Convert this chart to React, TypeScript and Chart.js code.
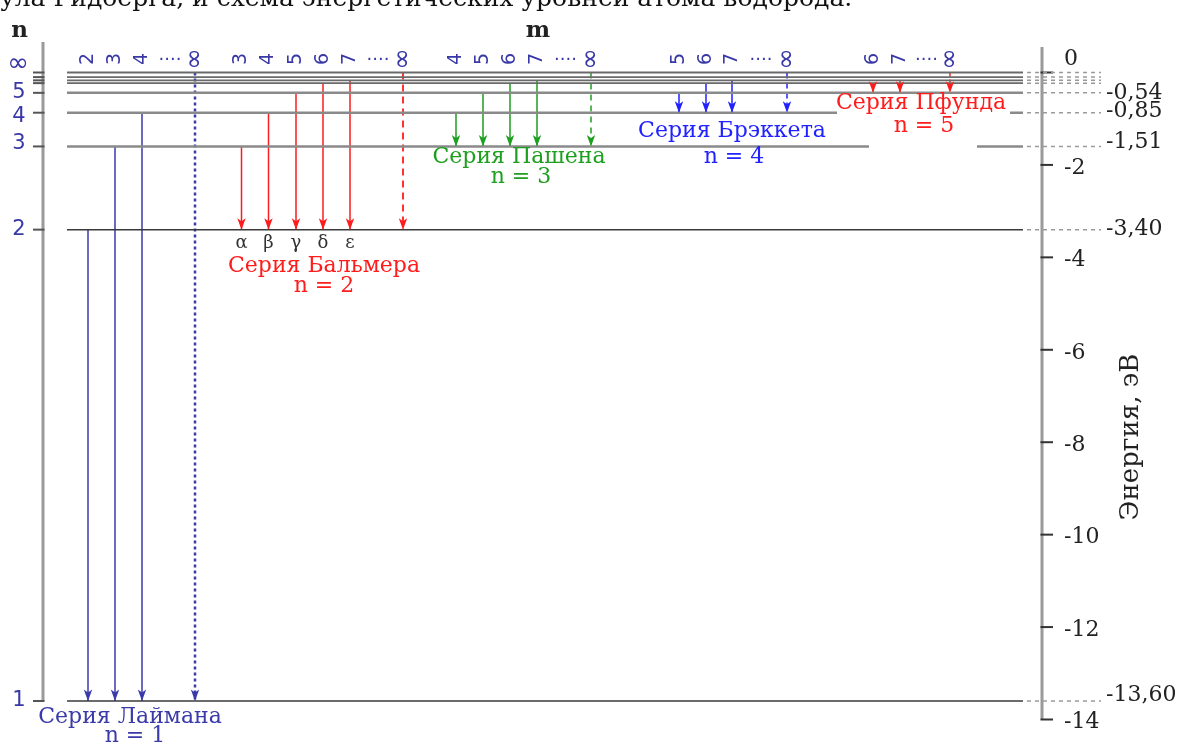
import React, { useEffect, useRef } from 'react';
import { Chart, registerables } from 'chart.js';
Chart.register(...registerables);

// ---------- data ----------
const headerText = 'ула Ридберга, и схема энергетических уровней атома водорода.';
const levelNames = ['1', '2', '3', '4', '5', '6', '7', '8', '∞'];
// energies of the level lines as drawn in the diagram (eV)
const levelEnergies = [-13.6, -3.4, -1.6, -0.87, -0.44, -0.23, -0.17, -0.1, 0];
const levelValueLabels = ['-13,60', '-3,40', '-1,51', '-0,85', '-0,54'];
const energyTicks = [0, -2, -4, -6, -8, -10, -12, -14];
const energyTickLabels = ['0', '-2', '-4', '-6', '-8', '-10', '-12', '-14'];
const axisTitle = 'Энергия, эВ';

const seriesNames = ['Серия Лаймана', 'Серия Бальмера', 'Серия Пашена', 'Серия Брэккета', 'Серия Пфунда'];
const seriesLower = ['1', '2', '3', '4', '5'];
const lymanUpper = ['2', '3', '4', '∞'];
const lymanX = [88, 115, 142, 195];
const balmerUpper = ['3', '4', '5', '6', '7', '∞'];
const balmerX = [241.5, 268.5, 296, 323, 350, 403];
const paschenUpper = ['4', '5', '6', '7', '∞'];
const paschenX = [456, 483, 510, 537, 591];
const brackettUpper = ['5', '6', '7', '∞'];
const brackettX = [679, 706, 732, 787];
const pfundUpper = ['6', '7', '∞'];
const pfundX = [873, 900, 950];
const balmerGreek = ['α', 'β', 'γ', 'δ', 'ε'];

// ---------- styles ----------
const SERIF = '"DejaVu Serif", serif';
const SANS = '"DejaVu Sans", sans-serif';
const NAVY = '#3838a6';
const PX_PER_EV = 46.214;
const Y_MAX = 72.5 / PX_PER_EV;
const Y_MIN = -(750 - 72.5) / PX_PER_EV;

const energyOf = (name: string) => levelEnergies[levelNames.indexOf(name)];

const seriesDefs = [
  { upper: lymanUpper, x: lymanX, color: '#3a3aaa', dash: [3, 3], infWidth: 2.5, label: [130, 717, 135, 736] },
  { upper: balmerUpper, x: balmerX, color: '#ff1c1c', dash: [7, 5], infWidth: 1.8, label: [324, 266, 324, 286] },
  { upper: paschenUpper, x: paschenX, color: '#1f9f1f', dash: [6, 5], infWidth: 1.5, label: [519, 157, 521, 177] },
  { upper: brackettUpper, x: brackettX, color: '#2222ff', dash: [6, 4], infWidth: 1.5, label: [732, 131, 734, 157] },
  { upper: pfundUpper, x: pfundX, color: '#ff1c1c', dash: [4, 3], infWidth: 1.5, label: [921, 103, 924, 126] },
];

function txt(ctx: CanvasRenderingContext2D, s: string, x: number, y: number, font: string, color: string,
  align: CanvasTextAlign = 'center', baseline: CanvasTextBaseline = 'middle', rot = 0) {
  ctx.save();
  ctx.font = font;
  ctx.fillStyle = color;
  ctx.textAlign = align;
  ctx.textBaseline = baseline;
  ctx.translate(x, y);
  if (rot) ctx.rotate(rot);
  ctx.fillText(s, 0, 0);
  ctx.restore();
}

const diagramPlugin = {
  id: 'diagram',
  beforeDatasetsDraw(chart: any) {
    const ctx: CanvasRenderingContext2D = chart.ctx;
    const xs = chart.scales.x;
    const ys = chart.scales.y;
    ctx.save();
    // left n axis
    const lx = xs.getPixelForValue(43);
    const y1 = ys.getPixelForValue(energyOf('1'));
    ctx.strokeStyle = '#9a9a9a';
    ctx.lineWidth = 3;
    ctx.beginPath();
    ctx.moveTo(lx, 42);
    ctx.lineTo(lx, y1);
    ctx.stroke();
    ctx.strokeStyle = '#555';
    ctx.lineWidth = 2;
    levelEnergies.forEach((E) => {
      const y = ys.getPixelForValue(E);
      ctx.beginPath();
      ctx.moveTo(xs.getPixelForValue(33), y);
      ctx.lineTo(lx + 1.5, y);
      ctx.stroke();
    });
    // right energy axis
    const rx = xs.getPixelForValue(1042);
    const yb = ys.getPixelForValue(-14);
    ctx.strokeStyle = '#9a9a9a';
    ctx.lineWidth = 3;
    ctx.beginPath();
    ctx.moveTo(rx, 47);
    ctx.lineTo(rx, yb);
    ctx.stroke();
    ctx.strokeStyle = '#333';
    ctx.lineWidth = 2;
    energyTicks.forEach((v) => {
      const y = ys.getPixelForValue(v);
      ctx.beginPath();
      ctx.moveTo(rx - 1.5, y);
      ctx.lineTo(xs.getPixelForValue(1053), y);
      ctx.stroke();
    });
    ctx.restore();
  },
  afterDatasetsDraw(chart: any) {
    const ctx: CanvasRenderingContext2D = chart.ctx;
    chart.data.datasets.forEach((ds: any, i: number) => {
      if (!ds.arrow) return;
      const meta = chart.getDatasetMeta(i);
      const p = meta.data[meta.data.length - 1];
      const x = p.x, y = p.y;
      ctx.save();
      ctx.fillStyle = ds.borderColor;
      ctx.beginPath();
      ctx.moveTo(x, y);
      ctx.lineTo(x - 4.2, y - 11.5);
      ctx.lineTo(x, y - 8.5);
      ctx.lineTo(x + 4.2, y - 11.5);
      ctx.closePath();
      ctx.fill();
      ctx.restore();
    });
  },
  afterDraw(chart: any) {
    const ctx: CanvasRenderingContext2D = chart.ctx;
    const xs = chart.scales.x;
    const ys = chart.scales.y;
    // header (cut off at the top)
    txt(ctx, headerText, 0, 6, `25px ${SERIF}`, '#111', 'left', 'alphabetic');
    // axis letters
    txt(ctx, 'n', 19.5, 37, `bold 23px ${SERIF}`, '#222', 'center', 'alphabetic');
    txt(ctx, 'm', 538, 37, `bold 23px ${SERIF}`, '#222', 'center', 'alphabetic');
    // n labels on left axis
    levelNames.forEach((n, i) => {
      const y = ys.getPixelForValue(levelEnergies[i]);
      if (n === '∞') txt(ctx, n, 18, y - 8, `26px ${SANS}`, NAVY);
      else if (['1', '2', '3', '4', '5'].includes(n)) {
        const dy = n === '3' ? -3 : n === '4' ? 4 : 0;
        txt(ctx, n, 19, y + dy, `21px ${SANS}`, NAVY);
      }
    });
    // upper level numbers above arrows (rotated)
    seriesDefs.forEach((s) => {
      s.upper.forEach((u, j) => {
        txt(ctx, u, xs.getPixelForValue(s.x[j]), 59, u === '∞' ? `26px ${SANS}` : `19px ${SANS}`, NAVY, 'center', 'middle', -Math.PI / 2);
      });
      const n = s.upper.length;
      const mid = (s.x[n - 2] + s.x[n - 1]) / 2 + 1.5;
      txt(ctx, '····', xs.getPixelForValue(mid), 60, `18px ${SANS}`, NAVY);
    });
    // greek letters
    balmerGreek.forEach((g, j) => {
      txt(ctx, g, xs.getPixelForValue(balmerX[j]), 243, `18px ${SERIF}`, '#333');
    });
    // series names
    seriesDefs.forEach((s, i) => {
      const [x1, y1, x2, y2] = s.label;
      txt(ctx, seriesNames[i], x1, y1, `22px ${SERIF}`, s.color);
      txt(ctx, `n = ${seriesLower[i]}`, x2, y2, `22px ${SERIF}`, s.color);
    });
    // energy axis tick labels
    energyTicks.forEach((v, i) => {
      const y = ys.getPixelForValue(v);
      txt(ctx, energyTickLabels[i], 1064, v === 0 ? y - 13 : y + 3, `22px ${SERIF}`, '#222', 'left');
    });
    // level value labels
    const offs = [-6, 0, -4, -1, 0];
    levelValueLabels.forEach((l, i) => {
      const y = ys.getPixelForValue(levelEnergies[i]);
      txt(ctx, l, 1106, y + offs[i], `22px ${SERIF}`, '#222', 'left');
    });
    // axis title
    txt(ctx, axisTitle, 1131, 437, `26px ${SERIF}`, '#222', 'center', 'middle', -Math.PI / 2);
  },
};

export default function App() {
  const ref = useRef<HTMLCanvasElement>(null);
  useEffect(() => {
    const canvas = ref.current!;
    const datasets: any[] = [];
    const base = { showLine: true, pointRadius: 0, pointHoverRadius: 0, spanGaps: false, fill: false };
    levelEnergies.forEach((E, i) => {
      const name = levelNames[i];
      const thin = i < 2;
      const top = i >= 5;
      let pts: any[];
      if (name === '4') pts = [{ x: 67, y: E }, { x: 837, y: E }, { x: 837, y: null }, { x: 1010, y: E }, { x: 1023, y: E }];
      else if (name === '3') pts = [{ x: 67, y: E }, { x: 869, y: E }, { x: 869, y: null }, { x: 977, y: E }, { x: 1023, y: E }];
      else pts = [{ x: 67, y: E }, { x: 1023, y: E }];
      datasets.push({
        ...base, data: pts,
        borderColor: thin ? '#3a3a3a' : top ? '#6a6a6a' : '#8a8a8a',
        borderWidth: thin ? 1.5 : top ? 1.8 : 2.5,
      });
      datasets.push({
        ...base, data: [{ x: 1027, y: E }, { x: 1101, y: E }],
        borderColor: '#9a9a9a', borderWidth: 1.5, borderDash: [4, 4],
      });
    });
    seriesDefs.forEach((s, si) => {
      s.upper.forEach((u, j) => {
        const inf = u === '∞';
        datasets.push({
          ...base, arrow: true,
          data: [{ x: s.x[j], y: energyOf(u) }, { x: s.x[j], y: energyOf(seriesLower[si]) }],
          borderColor: s.color, borderWidth: inf ? s.infWidth : 1.5,
          borderDash: inf ? s.dash : [],
        });
      });
    });
    const chart = new Chart(canvas, {
      type: 'scatter',
      data: { datasets },
      options: {
        animation: false,
        responsive: false,
        devicePixelRatio: 1,
        events: [],
        layout: { padding: 0 },
        scales: {
          x: { type: 'linear', min: 0, max: 1177, display: false },
          y: { type: 'linear', min: Y_MIN, max: Y_MAX, display: false },
        },
        plugins: { legend: { display: false }, tooltip: { enabled: false } },
      },
      plugins: [diagramPlugin],
    } as any);
    return () => chart.destroy();
  }, []);
  return (
    <div style={{ position: 'absolute', left: 0, top: 0, width: 1177, height: 750, background: '#fff' }}>
      <canvas ref={ref} width={1177} height={750} style={{ display: 'block' }} />
    </div>
  );
}
